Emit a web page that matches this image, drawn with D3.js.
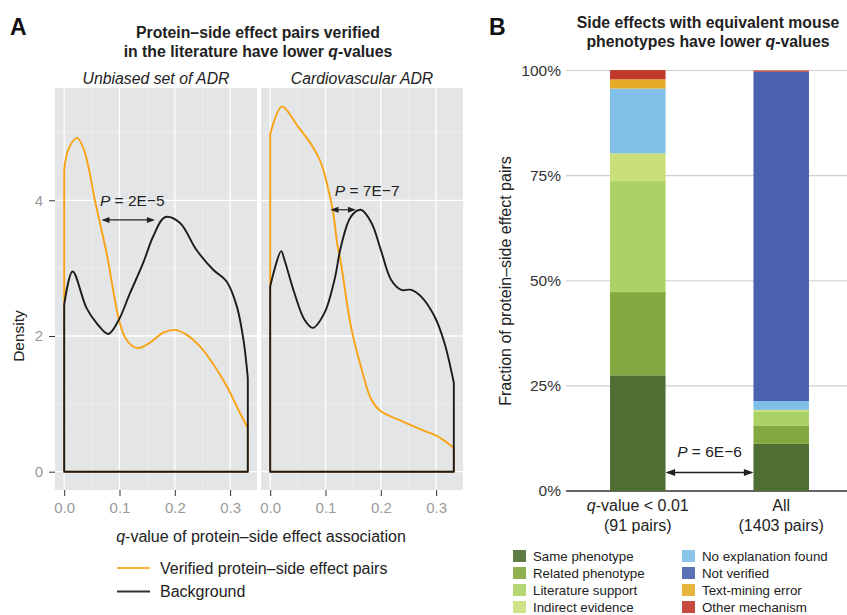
<!DOCTYPE html>
<html>
<head>
<meta charset="utf-8">
<script src="https://cdn.jsdelivr.net/npm/d3@7"></script>
<style>
  body { margin: 0; background: #fff; }
  svg { font-family: "Liberation Sans", Arial, sans-serif; }
</style>
</head>
<body>
<div class="chart"></div>
<script>
var svgWidth = 847;
var svgHeight = 615;

// ---------- panel A data: density curves [q, density] ----------
var facets = ["Unbiased set of ADR", "Cardiovascular ADR"];
var qMax = 0.332;

var verifiedUnbiased = [[0,4.45],[0.008,4.76],[0.0235,4.92],[0.035,4.76],[0.045,4.45],[0.0555,4.0],
  [0.0767,3.22],[0.099,2.24],[0.11,1.98],[0.122,1.86],[0.134,1.82],[0.155,1.9],
  [0.179,2.05],[0.2,2.09],[0.221,2.02],[0.245,1.85],[0.27,1.58],[0.294,1.26],[0.312,0.96],[0.332,0.64]];
var backgroundUnbiased = [[0,2.46],[0.0152,2.95],[0.0405,2.41],[0.0586,2.19],[0.0796,2.03],[0.0976,2.22],
  [0.119,2.63],[0.143,3.08],[0.161,3.47],[0.182,3.75],[0.209,3.67],[0.239,3.27],[0.269,2.98],
  [0.294,2.8],[0.312,2.44],[0.324,1.95],[0.332,1.38]];
var verifiedCardio = [[0,4.97],[0.021,5.38],[0.05,5.09],[0.077,4.79],[0.092,4.55],[0.104,4.2],
  [0.113,3.86],[0.122,3.32],[0.127,3.12],[0.146,2.14],[0.164,1.55],[0.183,1.06],[0.2,0.89],
  [0.231,0.77],[0.273,0.62],[0.303,0.52],[0.332,0.35]];
var backgroundCardio = [[0,2.73],[0.0199,3.25],[0.0259,3.12],[0.0439,2.63],[0.062,2.24],[0.0771,2.12],
  [0.0982,2.34],[0.1163,2.83],[0.128,3.32],[0.146,3.76],[0.164,3.86],[0.183,3.67],[0.2,3.27],
  [0.2185,2.83],[0.237,2.68],[0.255,2.68],[0.273,2.58],[0.297,2.29],[0.315,1.9],[0.332,1.31]];

var xTicksA = [0, 0.1, 0.2, 0.3];
var yTicksA = [0, 2, 4];
// p-value arrows [from q, to q, density level]
var pTexts = ["2E\u22125", "7E\u22127"];
var pArrows = [[0.0675, 0.164, 3.71], [0.109, 0.155, 3.86]];

// ---------- panel B data ----------
var groups = ["q-value < 0.01", "All"];
var groupCounts = ["(91 pairs)", "(1403 pairs)"];
var categories = ["Same phenotype", "Related phenotype", "Literature support", "Indirect evidence",
  "No explanation found", "Not verified", "Text-mining error", "Other mechanism"];
var colors = ["#4e6e33", "#83a83f", "#acd164", "#c9df79", "#7fbfe8", "#4a62ad", "#e4ac27", "#c0392b"];
// percent of pairs per category
var lowQValues = [27.5, 19.8, 26.4, 6.6, 15.4, 0, 2.2, 2.2];
var allValues = [11.2, 4.4, 3.2, 0.5, 2.1, 78.3, 0, 0.3];
var yTicksB = [0, 25, 50, 75, 100];

var svg = d3.select(".chart").append("svg")
    .attr("width", svgWidth)
    .attr("height", svgHeight);

/******************************** panel A ********************************/
var panelTop = 88, panelBottom = 490;
var panelLefts = [55, 261];
var panelW = 202;

var yA = d3.scaleLinear().domain([-0.27, 5.655]).range([panelBottom, panelTop]);

svg.append("text").attr("x", 10).attr("y", 35)
    .attr("font-size", 23).attr("font-weight", "bold").attr("fill", "#111").text("A");

var titleA = svg.append("text").attr("text-anchor", "middle")
    .attr("font-size", 15.8).attr("font-weight", "bold").attr("fill", "#222");
titleA.append("tspan").attr("x", 258).attr("y", 37.5).text("Protein\u2013side effect pairs verified");
var t2 = titleA.append("tspan").attr("x", 258).attr("y", 56.5);
t2.append("tspan").text("in the literature have lower ");
t2.append("tspan").attr("font-style", "italic").text("q");
t2.append("tspan").text("-values");

var lineGen = d3.line().curve(d3.curveCatmullRom.alpha(0.5));

var series = [[verifiedUnbiased, backgroundUnbiased], [verifiedCardio, backgroundCardio]];

facets.forEach(function(name, i) {
    var left = panelLefts[i];
    var xA = d3.scaleLinear().domain([-0.0166, 0.3486]).range([left, left + panelW]);
    var g = svg.append("g");

    g.append("rect").attr("x", left).attr("y", panelTop)
        .attr("width", panelW).attr("height", panelBottom - panelTop)
        .attr("fill", "#e4e5e7");

    // minor grid
    [0.05, 0.15, 0.25].forEach(function(v) {
        g.append("line").attr("x1", xA(v)).attr("x2", xA(v)).attr("y1", panelTop).attr("y2", panelBottom)
            .attr("stroke", "#f1f1f2").attr("stroke-width", 0.7);
    });
    [1, 3, 5].forEach(function(v) {
        g.append("line").attr("x1", left).attr("x2", left + panelW).attr("y1", yA(v)).attr("y2", yA(v))
            .attr("stroke", "#f1f1f2").attr("stroke-width", 0.7);
    });
    // major grid
    xTicksA.forEach(function(v) {
        g.append("line").attr("x1", xA(v)).attr("x2", xA(v)).attr("y1", panelTop).attr("y2", panelBottom)
            .attr("stroke", "#fff").attr("stroke-width", 1.3);
    });
    yTicksA.forEach(function(v) {
        g.append("line").attr("x1", left).attr("x2", left + panelW).attr("y1", yA(v)).attr("y2", yA(v))
            .attr("stroke", "#fff").attr("stroke-width", 1.3);
    });

    // strip label
    g.append("text").attr("x", left + panelW / 2).attr("y", 84)
        .attr("text-anchor", "middle").attr("font-size", 15.8).attr("font-style", "italic")
        .attr("fill", "#222").text(name);

    // x axis
    var xAxis = g.append("g").attr("transform", `translate(0,${panelBottom})`)
        .call(d3.axisBottom(xA).tickValues(xTicksA).tickFormat(d3.format(".1f")).tickSize(6).tickPadding(6));
    xAxis.select(".domain").remove();
    xAxis.selectAll("line").attr("stroke", "#333");
    xAxis.selectAll("text").attr("font-size", 15).attr("fill", "#9a9a9a")
        .attr("font-family", "Liberation Sans, Arial, sans-serif");

    // density outlines: verified first, background on top
    var cols = ["#f9a315", "#1c1c1c"];
    series[i].forEach(function(pts, k) {
        var p = pts.map(function(d) { return [xA(d[0]), yA(d[1])]; });
        var d = "M" + xA(0) + "," + yA(0) + "L" + lineGen(p).slice(1) +
            "L" + xA(qMax) + "," + yA(0) + "Z";
        g.append("path").attr("d", d).attr("fill", "none")
            .attr("stroke", cols[k]).attr("stroke-width", 1.9).attr("stroke-linejoin", "round");
    });

    // p-value annotation
    var a = pArrows[i];
    var ay = yA(a[2]);
    drawArrow(g, xA(a[0]), xA(a[1]), ay, 1.2, 5);
    var pt = g.append("text").attr("x", (xA(a[0]) + xA(a[1])) / 2 + (i === 0 ? 4 : 24)).attr("y", ay - 14)
        .attr("text-anchor", "middle").attr("font-size", 15.5).attr("fill", "#222");
    pt.append("tspan").attr("font-style", "italic").text("P");
    pt.append("tspan").text(" = " + pTexts[i]);
});

// y axis panel A
var yAxisA = svg.append("g").attr("transform", `translate(${panelLefts[0]},0)`)
    .call(d3.axisLeft(yA).tickValues(yTicksA).tickFormat(d3.format("d")).tickSize(6).tickPadding(6));
yAxisA.select(".domain").remove();
yAxisA.selectAll("line").attr("stroke", "#333");
yAxisA.selectAll("text").attr("font-size", 15).attr("fill", "#9a9a9a")
    .attr("font-family", "Liberation Sans, Arial, sans-serif");

svg.append("text").attr("transform", "translate(24,336) rotate(-90)")
    .attr("text-anchor", "middle").attr("font-size", 15.5).attr("fill", "#222").text("Density");

var xtA = svg.append("text").attr("x", 261).attr("y", 542).attr("text-anchor", "middle")
    .attr("font-size", 16).attr("fill", "#222");
xtA.append("tspan").attr("font-style", "italic").text("q");
xtA.append("tspan").text("-value of protein\u2013side effect association");

// legend A
var legA = [["Verified protein\u2013side effect pairs", "#f7b33c"], ["Background", "#333"]];
legA.forEach(function(d, i) {
    var y = 568 + i * 23.5;
    svg.append("line").attr("x1", 117).attr("x2", 150).attr("y1", y).attr("y2", y)
        .attr("stroke", d[1]).attr("stroke-width", 1.8);
    svg.append("text").attr("x", 160).attr("y", y + 5.5).attr("font-size", 16).attr("fill", "#222").text(d[0]);
});

/******************************** panel B ********************************/
var yB = d3.scaleLinear().domain([0, 100]).range([491, 70.5]);
var xB = d3.scaleBand().domain(groups).range([566, 853]).paddingInner(0.613).paddingOuter(0.307);

svg.append("text").attr("x", 489).attr("y", 35)
    .attr("font-size", 23).attr("font-weight", "bold").attr("fill", "#111").text("B");

var titleB = svg.append("text").attr("text-anchor", "middle")
    .attr("font-size", 15.8).attr("font-weight", "bold").attr("fill", "#222");
titleB.append("tspan").attr("x", 708).attr("y", 27.5).text("Side effects with equivalent mouse");
var tb2 = titleB.append("tspan").attr("x", 708).attr("y", 47);
tb2.append("tspan").text("phenotypes have lower ");
tb2.append("tspan").attr("font-style", "italic").text("q");
tb2.append("tspan").text("-values");

// grid
yTicksB.forEach(function(v) {
    svg.append("line").attr("x1", 566).attr("x2", svgWidth).attr("y1", yB(v)).attr("y2", yB(v))
        .attr("stroke", v === 0 ? "#666" : "#cfcfcf").attr("stroke-width", v === 0 ? 2 : 1.2);
});

var yAxisB = svg.append("g").attr("transform", "translate(566,0)")
    .call(d3.axisLeft(yB).tickValues(yTicksB).tickFormat(function(d) { return d + "%"; }).tickSize(0).tickPadding(5));
yAxisB.select(".domain").remove();
yAxisB.selectAll("text").attr("font-size", 15.5).attr("fill", "#333")
    .attr("font-family", "Liberation Sans, Arial, sans-serif");

svg.append("text").attr("transform", "translate(511,281) rotate(-90)")
    .attr("text-anchor", "middle").attr("font-size", 16).attr("fill", "#222")
    .text("Fraction of protein\u2013side effect pairs");

// stacked bars
var table = groups.map(function(gname, i) {
    var row = { group: gname };
    var vals = i === 0 ? lowQValues : allValues;
    categories.forEach(function(c, k) { row[c] = vals[k]; });
    return row;
});
var stacked = d3.stack().keys(categories)(table);
var color = d3.scaleOrdinal().domain(categories).range(colors);

svg.append("g").selectAll("g").data(stacked).join("g")
    .attr("fill", function(d) { return color(d.key); })
    .selectAll("rect").data(function(d) { return d; }).join("rect")
    .attr("x", function(d) { return xB(d.data.group); })
    .attr("width", xB.bandwidth())
    .attr("y", function(d) { return yB(d[1]); })
    .attr("height", function(d) { return yB(d[0]) - yB(d[1]); });

// x labels
groups.forEach(function(gname, i) {
    var cx = xB(gname) + xB.bandwidth() / 2;
    var t = svg.append("text").attr("x", cx).attr("y", 511).attr("text-anchor", "middle")
        .attr("font-size", 16).attr("fill", "#222");
    if (i === 0) {
        t.append("tspan").attr("font-style", "italic").text("q");
        t.append("tspan").text("-value < 0.01");
    } else {
        t.text(gname);
    }
    svg.append("text").attr("x", cx).attr("y", 531).attr("text-anchor", "middle")
        .attr("font-size", 16).attr("fill", "#222").text(groupCounts[i]);
});

// p-value arrow between bars
var bx0 = xB(groups[0]) + xB.bandwidth(), bx1 = xB(groups[1]);
drawArrow(svg, bx0, bx1, 472.5, 1.3, 6);
var pb = svg.append("text").attr("x", (bx0 + bx1) / 2).attr("y", 457).attr("text-anchor", "middle")
    .attr("font-size", 15.5).attr("fill", "#222");
pb.append("tspan").attr("font-style", "italic").text("P");
pb.append("tspan").text(" = 6E\u22126");

// legend B
categories.forEach(function(c, i) {
    var col = Math.floor(i / 4), row = i % 4;
    var x = 513 + col * 169, y = 550 + row * 17;
    svg.append("rect").attr("x", x).attr("y", y).attr("width", 13).attr("height", 12)
        .attr("fill", colors[i]).attr("opacity", 0.9);
    svg.append("text").attr("x", x + 20).attr("y", y + 11).attr("font-size", 13.3)
        .attr("fill", "#222").text(c);
});

function drawArrow(g, x0, x1, y, sw, head) {
    g.append("line").attr("x1", x0 + 2).attr("x2", x1 - 2).attr("y1", y).attr("y2", y)
        .attr("stroke", "#222").attr("stroke-width", sw);
    g.append("path").attr("d", `M${x0},${y}L${x0 + head * 1.6},${y - head * 0.6}L${x0 + head * 1.6},${y + head * 0.6}Z`)
        .attr("fill", "#222");
    g.append("path").attr("d", `M${x1},${y}L${x1 - head * 1.6},${y - head * 0.6}L${x1 - head * 1.6},${y + head * 0.6}Z`)
        .attr("fill", "#222");
}
</script>
</body>
</html>
